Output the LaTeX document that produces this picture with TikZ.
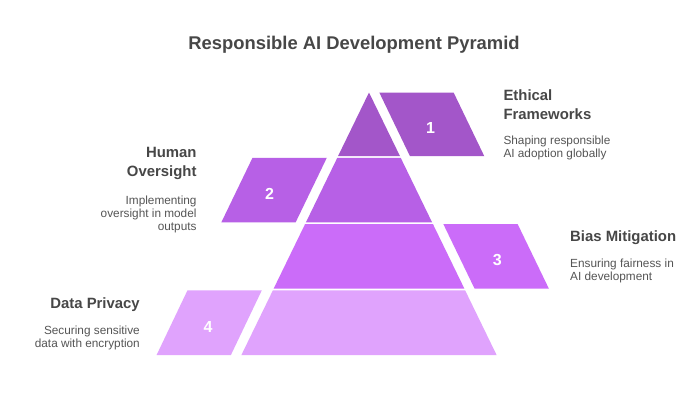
\documentclass[tikz,border=0pt]{standalone}
\usepackage{fontspec}
\setmainfont{Liberation Sans}
\definecolor{tierA}{HTML}{A356C9}
\definecolor{tierB}{HTML}{B760E6}
\definecolor{tierC}{HTML}{CB6CF9}
\definecolor{tierD}{HTML}{E0A3FD}
\definecolor{headc}{HTML}{474747}
\definecolor{descc}{HTML}{555555}
\begin{document}
\begin{tikzpicture}[x=1pt,y=-1pt,
  titlestyle/.style={font=\fontsize{18.4}{22}\selectfont\bfseries, text=headc, inner sep=0pt},
  headstyle/.style={font=\fontsize{14.9}{18}\selectfont\bfseries, text=headc, inner sep=0pt},
  descstyle/.style={font=\fontsize{11.8}{13.6}\selectfont, text=descc, inner sep=0pt},
  numstyle/.style={font=\fontsize{16}{18}\selectfont\bfseries, text=white, inner sep=0pt}]
\useasboundingbox (0,0) rectangle (700,400);
\fill[white] (0,0) rectangle (700,400);

% title
\node[titlestyle, anchor=base] (title) at (354,49) {Responsible AI Development Pyramid};

% pyramid tiers
\fill[tierA] (369,92.5) -- (400,156.2) -- (338,156.2) -- cycle;
\fill[tierB] (337.3,157.8) -- (400.7,157.8) -- (432.1,222.4) -- (305.9,222.4) -- cycle;
\fill[tierC] (305.1,224) -- (432.9,224) -- (464.4,288.7) -- (273.6,288.7) -- cycle;
\fill[tierD] (272.9,290.3) -- (465.1,290.3) -- (496.6,355) -- (241.4,355) -- cycle;

% side parallelograms
\fill[tierA] (379.3,92.5) -- (453.6,92.5) -- (484.3,156.2) -- (410,156.2) -- cycle;
\fill[tierB] (252.5,157.8) -- (326.8,157.8) -- (295.6,222.4) -- (221.3,222.4) -- cycle;
\fill[tierC] (443.3,224) -- (517.6,224) -- (548.9,288.7) -- (474.6,288.7) -- cycle;
\fill[tierD] (187.5,290.3) -- (261.8,290.3) -- (230.9,355) -- (156.6,355) -- cycle;

% numbers
\node[numstyle] (n1) at (430.5,127.8) {1};
\node[numstyle] (n2) at (269.5,194.2) {2};
\node[numstyle] (n3) at (497.2,260) {3};
\node[numstyle] (n4) at (208,326.5) {4};

% Ethical Frameworks
\node[headstyle, anchor=base west] (h1a) at (503.3,100.7) {Ethical};
\node[headstyle, anchor=base west] (h1b) at (503.3,119.3) {Frameworks};
\node[descstyle, anchor=base west] (d1a) at (503.3,144) {Shaping responsible};
\node[descstyle, anchor=base west] (d1b) at (503.3,157.7) {AI adoption globally};

% Human Oversight
\node[headstyle, anchor=base east] (h2a) at (196.7,157.3) {Human};
\node[headstyle, anchor=base east] (h2b) at (196.7,176) {Oversight};
\node[descstyle, anchor=base east] (d2a) at (196.7,204) {Implementing};
\node[descstyle, anchor=base east] (d2b) at (196.7,217.3) {oversight in model};
\node[descstyle, anchor=base east] (d2c) at (196.7,230.7) {outputs};

% Bias Mitigation
\node[headstyle, anchor=base west] (h3a) at (570,241.7) {Bias Mitigation};
\node[descstyle, anchor=base west] (d3a) at (570,267.3) {Ensuring fairness in};
\node[descstyle, anchor=base west] (d3b) at (570,280.7) {AI development};

% Data Privacy
\node[headstyle, anchor=base east] (h4a) at (140,308.3) {Data Privacy};
\node[descstyle, anchor=base east] (d4a) at (140,334) {Securing sensitive};
\node[descstyle, anchor=base east] (d4b) at (140,347.3) {data with encryption};
\end{tikzpicture}
\end{document}
